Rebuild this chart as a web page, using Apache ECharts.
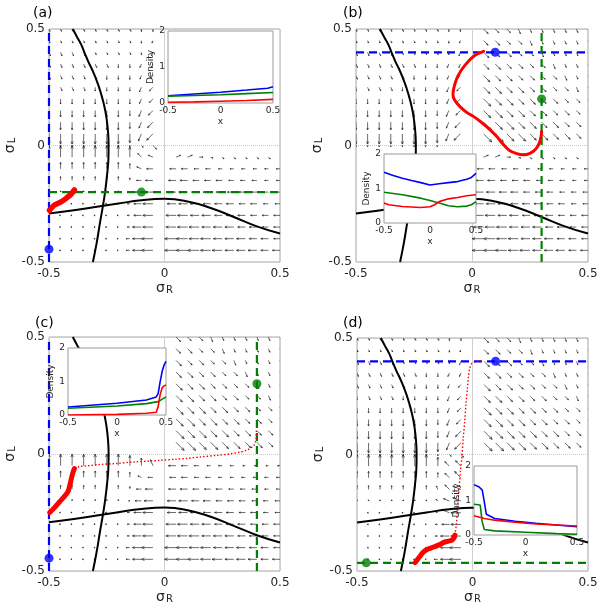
<!DOCTYPE html>
<html><head><meta charset="utf-8">
<script src="https://cdn.jsdelivr.net/npm/echarts@6/dist/echarts.min.js"></script>
<style>html,body{margin:0;padding:0;background:#fff}#c{width:604px;height:615px}</style>
</head><body><div id="c"></div>
<script>
// ---------- data ----------
const quiverX = [-0.5,-0.45,-0.4,-0.35,-0.3,-0.25,-0.2,-0.15,-0.1,-0.05,0,0.05,0.1,0.15,0.2,0.25,0.3,0.35,0.4,0.45,0.5];
const quiverY = [0.5,0.45,0.4,0.35,0.3,0.25,0.2,0.15,0.1,0.05,0,-0.05,-0.1,-0.15,-0.2,-0.25,-0.3,-0.35,-0.4,-0.45];
// each token: direction letter (a=east, counter-clockwise in 22.5deg steps) + length digit; "--" = no arrow
const quiverA = [
"n2 n2 n2 n2 n2 n2 n2 n2 m2 m2 -- -- -- -- -- -- -- -- -- -- --",
"n2 n2 n2 n2 n2 n2 n2 n2 m2 l2 -- -- -- -- -- -- -- -- -- -- --",
"n3 n3 n3 n3 n2 n2 n2 n2 m2 l3 -- -- -- -- -- -- -- -- -- -- --",
"n3 n3 n3 n3 n3 n3 m3 m3 l3 l3 -- -- -- -- -- -- -- -- -- -- --",
"n3 n3 n3 n3 n3 m3 m3 m3 l3 k3 -- -- -- -- -- -- -- -- -- -- --",
"m3 n3 n3 n3 m3 m3 m3 m3 l4 k4 -- -- -- -- -- -- -- -- -- -- --",
"m4 m4 m4 m4 m4 m4 m4 m4 l4 k4 -- -- -- -- -- -- -- -- -- -- --",
"m5 m5 m5 m5 m5 m5 m5 m4 l5 k5 -- -- -- -- -- -- -- -- -- -- --",
"m6 m6 m6 m6 m6 m6 m6 m5 l5 k6 -- -- -- -- -- -- -- -- -- -- --",
"m8 m8 m8 m8 m8 m8 m8 m7 l6 k7 -- -- -- -- -- -- -- -- -- -- --",
"m1 m1 m1 m1 m1 m1 m1 m1 o2 o4 -- -- -- -- -- -- -- -- -- -- --",
"e9 e9 e9 e9 e9 e9 e9 e8 g4 h4 -- b4 b4 a3 p2 o2 o2 o2 o2 o2 o2",
"e5 e5 e5 e5 e5 e5 e5 e4 h4 i5 -- i5 i5 i4 i4 i3 i3 i3 i3 i3 i3",
"e3 e3 e3 e3 e3 e3 e3 e2 i4 i6 -- i6 i6 i5 i5 i5 i4 i4 i4 i3 i3",
"e1 e1 e1 e1 e1 e1 e1 i1 i5 i7 -- i7 i7 i6 i6 i5 i5 i5 i4 i4 i4",
"i1 i1 i1 i1 i1 i1 i1 i2 i6 i8 -- i7 i7 i7 i6 i6 i6 i5 i5 i4 i4",
"i1 i1 i1 i1 i1 i1 i1 i2 i6 i8 -- i8 i8 i7 i7 i6 i6 i6 i5 i5 i5",
"i1 i1 i1 i1 i1 i1 i1 i2 i7 i8 -- i8 i8 i8 i7 i7 i7 i6 i6 i5 i5",
"i1 i1 i1 i1 i1 i1 i1 i3 i7 i9 -- i9 i9 i8 i8 i7 i7 i7 i6 i6 i5",
"i1 i1 i1 i1 i1 i1 i1 i3 i7 i9 -- i9 i9 i9 i8 i8 i7 i7 i7 i6 i6"
];
const quiverB = [
"n2 n2 n2 n2 n2 n2 n2 n2 m2 m2 -- o5 o4 o4 n4 n3 n3 n3 n3 n3 n3",
"n2 n2 n2 n2 n2 n2 n2 n2 m2 l2 -- o5 o5 o4 o4 n4 n3 n3 n3 n3 n3",
"n3 n3 n3 n3 n2 n2 n2 n2 m2 l3 -- o6 o5 o5 o4 o4 n4 n3 n3 n3 n3",
"n3 n3 n3 n3 n3 n3 m3 m3 l3 l3 -- o6 o6 o5 o5 o4 o4 n4 n3 n3 n3",
"n3 n3 n3 n3 n3 m3 m3 m3 l3 k3 -- o7 o6 o6 o5 o5 o4 o4 n4 n3 n3",
"m3 n3 n3 n3 m3 m3 m3 m3 l4 k4 -- o7 o7 o6 o6 o5 o5 o4 o4 n4 n3",
"m4 m4 m4 m4 m4 m4 m4 m4 l4 k4 -- o8 o7 o7 o6 o6 o5 o5 o4 o4 n4",
"m5 m5 m5 m5 m5 m5 m5 m4 l5 k5 -- o8 o8 o7 o7 o6 o6 o5 o5 o4 o4",
"m6 m6 m6 m6 m6 m6 m6 m5 l5 k6 -- o9 o8 o8 o7 o7 o6 o6 o5 o5 o4",
"m8 m8 m8 m8 m8 m8 m8 m7 l6 k7 -- o9 o9 o8 o8 o7 o7 o6 o6 o5 o5",
"m1 m1 m1 m1 m1 m1 m1 m1 -- -- -- -- -- -- -- -- -- -- -- -- --",
"-- -- -- -- -- -- -- -- -- -- -- b4 b4 a3 p2 o2 o2 o2 o2 o2 o2",
"-- -- -- -- -- -- -- -- -- -- -- i5 i5 i4 i4 i3 i3 i3 i3 i3 i3",
"-- -- -- -- -- -- -- -- -- -- -- i6 i6 i5 i5 i5 i4 i4 i4 i3 i3",
"-- -- -- -- -- -- -- -- -- -- -- i7 i7 i6 i6 i5 i5 i5 i4 i4 i4",
"-- -- -- -- -- -- -- -- -- -- -- i7 i7 i7 i6 i6 i6 i5 i5 i4 i4",
"-- -- -- -- -- -- -- -- -- -- -- i8 i8 i7 i7 i6 i6 i6 i5 i5 i5",
"-- -- -- -- -- -- -- -- -- -- -- i8 i8 i8 i7 i7 i7 i6 i6 i5 i5",
"-- -- -- -- -- -- -- -- -- -- -- i9 i9 i8 i8 i7 i7 i7 i6 i6 i5",
"-- -- -- -- -- -- -- -- -- -- -- i9 i9 i9 i8 i8 i7 i7 i7 i6 i6"
];
const quiverC = [
"-- -- -- -- -- -- -- -- -- -- -- o5 o4 o4 n4 n3 n3 n3 n3 n3 n3",
"-- -- -- -- -- -- -- -- -- -- -- o5 o5 o4 o4 n4 n3 n3 n3 n3 n3",
"-- -- -- -- -- -- -- -- -- -- -- o6 o5 o5 o4 o4 n4 n3 n3 n3 n3",
"-- -- -- -- -- -- -- -- -- -- -- o6 o6 o5 o5 o4 o4 n4 n3 n3 n3",
"-- -- -- -- -- -- -- -- -- -- -- o7 o6 o6 o5 o5 o4 o4 n4 n3 n3",
"-- -- -- -- -- -- -- -- -- -- -- o7 o7 o6 o6 o5 o5 o4 o4 n4 n3",
"-- -- -- -- -- -- -- -- -- -- -- o8 o7 o7 o6 o6 o5 o5 o4 o4 n4",
"-- -- -- -- -- -- -- -- -- -- -- o8 o8 o7 o7 o6 o6 o5 o5 o4 o4",
"-- -- -- -- -- -- -- -- -- -- -- o9 o8 o8 o7 o7 o6 o6 o5 o5 o4",
"-- -- -- -- -- -- -- -- -- -- -- o9 o9 o8 o8 o7 o7 o6 o6 o5 o5",
"-- -- -- -- -- -- -- -- -- -- -- -- -- -- -- -- -- -- -- -- --",
"e9 e9 e9 e9 e9 e9 e9 e8 e6 f5 -- i6 i5 i4 i3 i3 i3 i2 i2 i2 i2",
"e5 e5 e5 e5 e5 e5 e5 e4 h3 i4 -- i5 i5 i4 i4 i3 i3 i3 i3 i3 i3",
"e3 e3 e3 e3 e3 e3 e3 e2 i4 i6 -- i6 i6 i5 i5 i5 i4 i4 i4 i3 i3",
"e1 e1 e1 e1 e1 e1 e1 i1 i5 i7 -- i7 i7 i6 i6 i5 i5 i5 i4 i4 i4",
"i1 i1 i1 i1 i1 i1 i1 i2 i6 i8 -- i7 i7 i7 i6 i6 i6 i5 i5 i4 i4",
"i1 i1 i1 i1 i1 i1 i1 i2 i6 i8 -- i8 i8 i7 i7 i6 i6 i6 i5 i5 i5",
"i1 i1 i1 i1 i1 i1 i1 i2 i7 i8 -- i8 i8 i8 i7 i7 i7 i6 i6 i5 i5",
"i1 i1 i1 i1 i1 i1 i1 i3 i7 i9 -- i9 i9 i8 i8 i7 i7 i7 i6 i6 i5",
"i1 i1 i1 i1 i1 i1 i1 i3 i7 i9 -- i9 i9 i9 i8 i8 i7 i7 i7 i6 i6"
];
const quiverD = [
"n2 n2 n2 n2 n2 n2 n2 n2 m2 m2 -- o5 o4 o4 n4 n3 n3 n3 n3 n3 n3",
"n2 n2 n2 n2 n2 n2 n2 n2 m2 l2 -- o5 o5 o4 o4 n4 n3 n3 n3 n3 n3",
"n3 n3 n3 n3 n2 n2 n2 n2 m2 l3 -- o6 o5 o5 o4 o4 n4 n3 n3 n3 n3",
"n3 n3 n3 n3 n3 n3 m3 m3 l3 l3 -- o6 o6 o5 o5 o4 o4 n4 n3 n3 n3",
"n3 n3 n3 n3 n3 m3 m3 m3 l3 k3 -- o7 o6 o6 o5 o5 o4 o4 n4 n3 n3",
"m3 n3 n3 n3 m3 m3 m3 m3 l4 k4 -- o7 o7 o6 o6 o5 o5 o4 o4 n4 n3",
"m4 m4 m4 m4 m4 m4 m4 m4 l4 k4 -- o8 o7 o7 o6 o6 o5 o5 o4 o4 n4",
"m5 m5 m5 m5 m5 m5 m5 m4 l5 k5 -- o8 o8 o7 o7 o6 o6 o5 o5 o4 o4",
"m6 m6 m6 m6 m6 m6 m6 m5 l5 k6 -- o9 o8 o8 o7 o7 o6 o6 o5 o5 o4",
"m8 m8 m8 m8 m8 m8 m8 m7 l6 k7 -- o9 o9 o8 o8 o7 o7 o6 o6 o5 o5",
"m1 m1 m1 m1 m1 m1 m1 m1 o2 o3 -- -- -- -- -- -- -- -- -- -- --",
"e9 e9 e9 e9 e9 e9 e9 e7 g5 g6 -- -- -- -- -- -- -- -- -- -- --",
"e5 e5 e5 e5 e5 e5 e5 e4 g5 g7 -- -- -- -- -- -- -- -- -- -- --",
"e3 e3 e3 e3 e3 e3 e3 f3 g5 h7 -- -- -- -- -- -- -- -- -- -- --",
"e1 e1 e1 e1 e1 e1 e1 g2 h5 h7 -- -- -- -- -- -- -- -- -- -- --",
"i1 i1 i1 i1 i1 i1 i1 h2 h6 i8 -- -- -- -- -- -- -- -- -- -- --",
"i1 i1 i1 i1 i1 i1 i1 i2 i6 i8 -- -- -- -- -- -- -- -- -- -- --",
"i1 i1 i1 i1 i1 i1 i1 i2 i7 i8 -- -- -- -- -- -- -- -- -- -- --",
"i1 i1 i1 i1 i1 i1 i1 i3 i7 i9 -- -- -- -- -- -- -- -- -- -- --",
"i1 i1 i1 i1 i1 i1 i1 i3 i7 i9 -- -- -- -- -- -- -- -- -- -- --"
];

// nullclines (same in every panel)
const nullclineV = [[-0.397,0.5],[-0.378,0.465],[-0.361,0.434],[-0.346,0.398],[-0.331,0.362],[-0.313,0.325],[-0.298,0.29],[-0.285,0.255],[-0.274,0.22],[-0.264,0.183],[-0.256,0.147],[-0.25,0.11],[-0.246,0.075],[-0.243,0.037],[-0.242,0],[-0.243,-0.06],[-0.248,-0.12],[-0.256,-0.19],[-0.266,-0.256],[-0.279,-0.33],[-0.294,-0.42],[-0.31,-0.5]];
const nullclineH = [[-0.5,-0.292],[-0.4,-0.279],[-0.3,-0.264],[-0.2,-0.249],[-0.1,-0.235],[0,-0.229],[0.1,-0.24],[0.2,-0.268],[0.3,-0.307],[0.4,-0.347],[0.5,-0.378]];

// red trajectories
const redA = [[-0.498,-0.278],[-0.477,-0.256],[-0.448,-0.242],[-0.426,-0.227],[-0.405,-0.209],[-0.39,-0.191]];
const redB = [[0.05,0.404],[0.01,0.385],[-0.03,0.345],[-0.06,0.3],[-0.075,0.26],[-0.082,0.22],[-0.075,0.195],[-0.052,0.167],[-0.02,0.14],[0.006,0.125],[0.04,0.1],[0.07,0.075],[0.106,0.04],[0.13,0.01],[0.16,-0.02],[0.193,-0.035],[0.22,-0.04],[0.25,-0.034],[0.275,-0.015],[0.29,0.01],[0.298,0.04],[0.3,0.06]];
const redCThick = [[-0.497,-0.25],[-0.475,-0.228],[-0.454,-0.204],[-0.435,-0.183],[-0.418,-0.161],[-0.41,-0.135],[-0.403,-0.104],[-0.395,-0.075],[-0.39,-0.062]];
const redCThin = [[-0.39,-0.062],[-0.367,-0.054],[-0.33,-0.05],[-0.28,-0.045],[-0.2,-0.04],[-0.136,-0.034],[-0.06,-0.03],[-0.02,-0.027],[0.05,-0.022],[0.095,-0.019],[0.16,-0.012],[0.225,-0.006],[0.28,0],[0.327,0.008],[0.355,0.016],[0.37,0.024],[0.385,0.035],[0.392,0.046],[0.396,0.065],[0.398,0.1]];
const redDThick = [[-0.248,-0.464],[-0.23,-0.44],[-0.212,-0.418],[-0.19,-0.405],[-0.169,-0.397],[-0.145,-0.388],[-0.126,-0.378],[-0.105,-0.372],[-0.09,-0.368],[-0.08,-0.358],[-0.076,-0.346]];
const redDThin = [[-0.076,-0.346],[-0.07,-0.3],[-0.064,-0.22],[-0.058,-0.146],[-0.052,-0.07],[-0.046,-0.01],[-0.04,0.07],[-0.034,0.14],[-0.028,0.22],[-0.022,0.285],[-0.018,0.33],[-0.012,0.37],[-0.004,0.39],[0.011,0.398],[0.03,0.401],[0.047,0.402]];

// dashed reference lines and dots
const blueLineA = [[-0.5,-0.5],[-0.5,0.5]], greenLineA = [[-0.5,-0.2],[0.5,-0.2]];
const blueDotA = [-0.5,-0.445], greenDotA = [-0.1,-0.2];
const blueLineB = [[-0.5,0.4],[0.5,0.4]], greenLineB = [[0.3,-0.5],[0.3,0.5]];
const blueDotB = [0.1,0.4], greenDotB = [0.3,0.2];
const blueLineC = [[-0.5,-0.5],[-0.5,0.5]], greenLineC = [[0.4,-0.5],[0.4,0.5]];
const blueDotC = [-0.5,-0.445], greenDotC = [0.4,0.3];
const blueLineD = [[-0.5,0.4],[0.5,0.4]], greenLineD = [[-0.5,-0.465],[0.5,-0.465]];
const blueDotD = [0.1,0.4], greenDotD = [-0.46,-0.465];

// inset densities
const insetABlue = [[-0.5,0.2],[-0.25,0.25],[0,0.3],[0.25,0.36],[0.45,0.41],[0.5,0.45]];
const insetAGreen = [[-0.5,0.19],[-0.25,0.21],[0,0.23],[0.25,0.26],[0.5,0.29]];
const insetARed = [[-0.5,0.02],[-0.25,0.03],[0,0.05],[0.25,0.07],[0.5,0.1]];
const insetBBlue = [[-0.5,1.47],[-0.4,1.375],[-0.3,1.3],[-0.2,1.23],[-0.1,1.17],[0,1.1],[0.1,1.14],[0.2,1.17],[0.3,1.2],[0.4,1.27],[0.45,1.32],[0.5,1.44]];
const insetBGreen = [[-0.5,0.89],[-0.3,0.82],[-0.1,0.72],[0,0.65],[0.1,0.58],[0.2,0.5],[0.3,0.47],[0.4,0.49],[0.45,0.53],[0.5,0.62]];
const insetBRed = [[-0.5,0.58],[-0.45,0.53],[-0.3,0.48],[-0.1,0.45],[0,0.47],[0.05,0.53],[0.1,0.62],[0.2,0.7],[0.3,0.74],[0.4,0.79],[0.5,0.82]];
const insetCBlue = [[-0.5,0.24],[0,0.35],[0.3,0.45],[0.4,0.54],[0.42,0.64],[0.44,0.99],[0.46,1.29],[0.48,1.49],[0.5,1.6]];
const insetCGreen = [[-0.5,0.2],[0,0.27],[0.3,0.34],[0.42,0.4],[0.45,0.45],[0.5,0.54]];
const insetCRed = [[-0.5,0],[0,0.02],[0.3,0.05],[0.4,0.08],[0.42,0.25],[0.44,0.6],[0.46,0.81],[0.48,0.87],[0.5,0.9]];
const insetDBlue = [[-0.5,1.46],[-0.45,1.39],[-0.42,1.3],[-0.4,0.96],[-0.38,0.6],[-0.3,0.48],[-0.1,0.4],[0.1,0.34],[0.3,0.29],[0.5,0.24]];
const insetDGreen = [[-0.5,0.89],[-0.44,0.87],[-0.42,0.38],[-0.4,0.16],[-0.3,0.12],[0,0.08],[0.3,0.04],[0.5,0.02]];
const insetDRed = [[-0.5,0.56],[-0.4,0.48],[-0.3,0.43],[-0.1,0.37],[0.1,0.32],[0.3,0.29],[0.5,0.26]];

const mainTicks = [-0.5, 0, 0.5];
const insetXTicks = [-0.5, 0, 0.5];
const insetYTicks = [0, 1, 2];
const panelLabels = ['(a)','(b)','(c)','(d)'];

// ---------- build ----------
const dirCodes = 'abcdefghijklmnop';
const lenUnit = 0.0055;
function decodeField(rows){
  const out = [];
  rows.forEach((r, j) => {
    r.trim().split(/\s+/).forEach((t, i) => {
      if (t === '--') return;
      const a = dirCodes.indexOf(t[0]) * Math.PI / 8;
      const L = (+t[1]) * lenUnit;
      out.push([quiverX[i], quiverY[j], L * Math.cos(a), L * Math.sin(a)]);
    });
  });
  return out;
}
const FONT = 'DejaVu Sans';
const TXT = '#262626';
const BLUE = '#0000ff', GREEN = '#008000', RED = '#ff0000';

function arrowRender(params, api){
  const x = api.value(0), y = api.value(1), u = api.value(2), v = api.value(3);
  const p0 = api.coord([x, y]), p1 = api.coord([x + u, y + v]);
  const dx = p1[0] - p0[0], dy = p1[1] - p0[1];
  const L = Math.hypot(dx, dy);
  const cs = params.coordSys;
  const style = {stroke: '#1e1e1e', lineWidth: 0.65, fill: null};
  const ang = Math.atan2(dy, dx);
  const h = Math.max(1.3, L * 0.28), sp = 0.4;
  const a1 = [p1[0] - h * Math.cos(ang - sp), p1[1] - h * Math.sin(ang - sp)];
  const a2 = [p1[0] - h * Math.cos(ang + sp), p1[1] - h * Math.sin(ang + sp)];
  return {type: 'group',
    clipPath: {type: 'rect', shape: {x: cs.x, y: cs.y, width: cs.width, height: cs.height}},
    children: [
      {type: 'polyline', shape: {points: [p0, p1]}, style: style},
      {type: 'polyline', shape: {points: [a1, p1, a2]}, style: style}
    ]};
}

const mainGrids = [
  {left: 49, top: 29, width: 231, height: 233},
  {left: 356, top: 29, width: 232, height: 233},
  {left: 49, top: 337, width: 231, height: 234},
  {left: 357, top: 338, width: 231, height: 233}
];
const insetGrids = [
  {left: 168, top: 31, width: 105, height: 72},
  {left: 384, top: 154, width: 92, height: 69},
  {left: 68, top: 348, width: 98, height: 67},
  {left: 474, top: 466, width: 103, height: 69}
];

const grid = [], xAxis = [], yAxis = [], series = [];
const subRichX = {
  s: {fontSize: 14, fontFamily: FONT, color: TXT, lineHeight: 14, verticalAlign: 'top'},
  sub: {fontSize: 10, fontFamily: FONT, color: TXT, lineHeight: 14, verticalAlign: 'bottom', padding: [4, 0, 0, 1]}
};
mainGrids.forEach((g, i) => {
  grid.push(Object.assign({show: true, borderColor: '#a8a8a8', borderWidth: 1, backgroundColor: 'transparent', containLabel: false, outerBoundsMode: 'none'}, g));
  xAxis.push({gridIndex: i, type: 'value', min: mainTicks[0], max: mainTicks[2], interval: 0.5,
    axisLine: {show: false}, axisTick: {show: false},
    axisLabel: {fontSize: 12, fontFamily: FONT, color: TXT, margin: 6},
    splitLine: {show: true, lineStyle: {color: '#d0d0d0', width: 1}},
    name: '{s|σ}{sub|R}', nameLocation: 'middle', nameGap: 19, nameTextStyle: {rich: subRichX}});
  yAxis.push({gridIndex: i, type: 'value', min: mainTicks[0], max: mainTicks[2], interval: 0.5,
    axisLine: {show: false}, axisTick: {show: false},
    axisLabel: {fontSize: 12, fontFamily: FONT, color: TXT, margin: 4},
    splitLine: {show: true, lineStyle: {color: '#c8c8c8', width: 1, type: 'dotted'}},
    name: '{s|σ}{sub|L}', nameLocation: 'middle', nameGap: 24, nameRotate: 90, nameTextStyle: {rich: subRichX}});
});
insetGrids.forEach((g, k) => {
  const i = 4 + k;
  grid.push(Object.assign({show: true, borderColor: '#9a9a9a', borderWidth: 1, backgroundColor: '#ffffff', z: 10, containLabel: false, outerBoundsMode: 'none'}, g));
  xAxis.push({gridIndex: i, type: 'value', min: insetXTicks[0], max: insetXTicks[2], interval: 0.5, z: 12,
    axisLine: {show: false}, axisTick: {show: false}, splitLine: {show: false},
    axisLabel: {fontSize: 9, fontFamily: FONT, color: TXT, margin: 3},
    name: 'x', nameLocation: 'middle', nameGap: 14, nameTextStyle: {fontSize: 9, fontFamily: FONT, color: TXT}});
  yAxis.push({gridIndex: i, type: 'value', min: insetYTicks[0], max: insetYTicks[2], interval: 1, z: 12,
    axisLine: {show: false}, axisTick: {show: false}, splitLine: {show: false},
    axisLabel: {fontSize: 9, fontFamily: FONT, color: TXT, margin: 3},
    name: 'Density', nameLocation: 'middle', nameGap: 9, nameRotate: 90, nameTextStyle: {fontSize: 9, fontFamily: FONT, color: TXT}});
});

const fields = [quiverA, quiverB, quiverC, quiverD];
const redThick = [redA, redB, redCThick, redDThick];
const redThickW = [5.5, 3, 5, 5];
const redThin = [null, null, redCThin, redDThin];
const blueLines = [blueLineA, blueLineB, blueLineC, blueLineD];
const greenLines = [greenLineA, greenLineB, greenLineC, greenLineD];
const blueDots = [blueDotA, blueDotB, blueDotC, blueDotD];
const greenDots = [greenDotA, greenDotB, greenDotC, greenDotD];
const insetSeries = [[insetABlue, insetAGreen, insetARed],[insetBBlue, insetBGreen, insetBRed],[insetCBlue, insetCGreen, insetCRed],[insetDBlue, insetDGreen, insetDRed]];

function lineS(i, data, color, width, extra){
  return Object.assign({type: 'line', xAxisIndex: i, yAxisIndex: i, data: data, showSymbol: false, symbol: 'none',
    lineStyle: {color: color, width: width}, silent: true, animation: false}, extra || {});
}
for (let i = 0; i < 4; i++){
  series.push({type: 'custom', xAxisIndex: i, yAxisIndex: i, data: decodeField(fields[i]), renderItem: arrowRender, z: 2, silent: true, animation: false});
  series.push(lineS(i, nullclineV, '#000', 2, {smooth: 0.5, z: 3}));
  series.push(lineS(i, nullclineH, '#000', 2, {smooth: 0.5, z: 3}));
  series.push(lineS(i, blueLines[i], BLUE, 2.2, {z: 4, clip: false, lineStyle: {color: BLUE, width: 2.2, type: [8, 5]}}));
  series.push(lineS(i, greenLines[i], GREEN, 2.2, {z: 4, clip: false, lineStyle: {color: GREEN, width: 2.2, type: [8, 5]}}));
  series.push(lineS(i, redThick[i], RED, redThickW[i], {smooth: 0.3, z: 5, lineStyle: {color: RED, width: redThickW[i], cap: 'round', join: 'round'}}));
  if (redThin[i]) series.push(lineS(i, redThin[i], RED, 1.4, {smooth: 0.3, z: 5, lineStyle: {color: RED, width: 1.4, type: [1.5, 2]}}));
  series.push({type: 'scatter', xAxisIndex: i, yAxisIndex: i, data: [blueDots[i]], symbolSize: 9, itemStyle: {color: BLUE}, z: 6, silent: true, animation: false});
  series.push({type: 'scatter', xAxisIndex: i, yAxisIndex: i, data: [greenDots[i]], symbolSize: 9, itemStyle: {color: GREEN}, z: 6, silent: true, animation: false});
  const colors = [BLUE, GREEN, RED];
  insetSeries[i].forEach((d, c) => series.push(lineS(4 + i, d, colors[c], 1.6, {z: 11})));
}

const graphic = panelLabels.map((t, i) => ({
  type: 'text', left: [33, 343, 35, 343][i], top: [6, 6, 316, 316][i],
  style: {text: t, font: '14px "DejaVu Sans"', fill: '#000'}
}));

const chart = echarts.init(document.getElementById('c'), null, {renderer: 'canvas'});
chart.setOption({backgroundColor: '#fff', animation: false, grid: grid, xAxis: xAxis, yAxis: yAxis, series: series, graphic: graphic});
</script></body></html>
